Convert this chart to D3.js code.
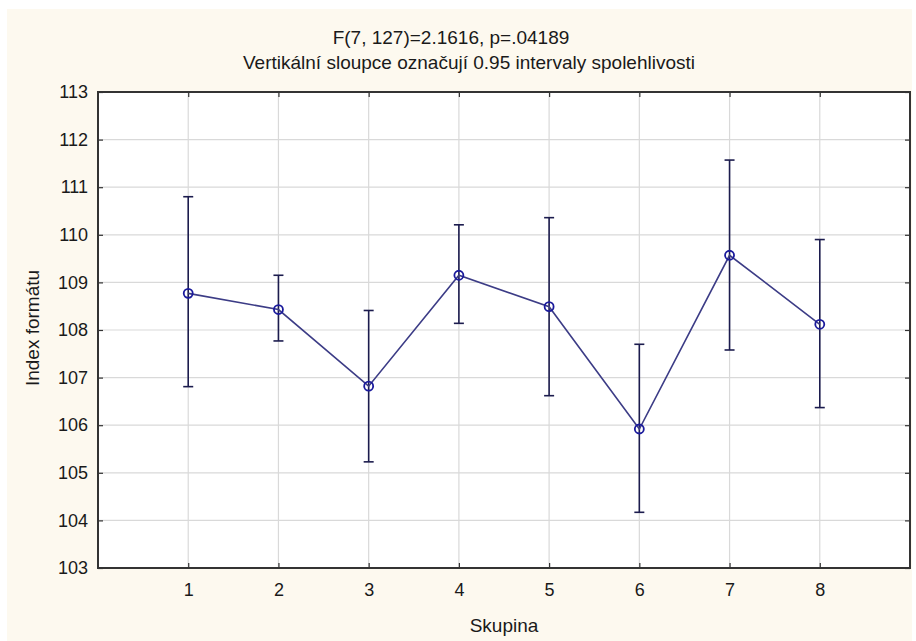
<!DOCTYPE html>
<html>
<head>
<meta charset="utf-8">
<script src="https://cdn.jsdelivr.net/npm/d3@7/dist/d3.min.js"></script>
<style>
  html, body { margin: 0; padding: 0; background: #ffffff; }
  svg { display: block; }
  text { font-family: "Liberation Sans", Arial, sans-serif; fill: #1a1a1a; }
</style>
</head>
<body>
<svg id="chart" width="916" height="641"></svg>
<script>
// Group means with 95 % confidence intervals
const groups = [1, 2, 3, 4, 5, 6, 7, 8];
const means = [108.77, 108.43, 106.82, 109.15, 108.49, 105.92, 109.57, 108.12];
const lower = [106.81, 107.77, 105.23, 108.14, 106.62, 104.17, 107.58, 106.37];
const upper = [110.80, 109.15, 108.41, 110.21, 110.36, 107.70, 111.57, 109.90];
const yTicks = [103, 104, 105, 106, 107, 108, 109, 110, 111, 112, 113];

const titleLines = ["F(7, 127)=2.1616, p=.04189",
                    "Vertikální sloupce označují 0.95 intervaly spolehlivosti"];
const xLabel = "Skupina";
const yLabel = "Index formátu";

const svg = d3.select("#chart");
const W = 916, H = 641;
const plot = { left: 98, top: 92, right: 910, bottom: 568 };

// panel background
svg.append("rect")
  .attr("x", 7).attr("y", 9).attr("width", 905).attr("height", H - 9)
  .attr("fill", "#fdf9ef");

const x = d3.scaleLinear().domain([0, 9]).range([plot.left, plot.right]);
const y = d3.scaleLinear().domain([103, 113]).range([plot.bottom, plot.top]);

// plotting area
svg.append("rect")
  .attr("x", plot.left).attr("y", plot.top)
  .attr("width", plot.right - plot.left).attr("height", plot.bottom - plot.top)
  .attr("fill", "#ffffff");

// grid
const grid = svg.append("g").attr("stroke", "#d9d9d9").attr("stroke-width", 1.2);
grid.selectAll("line.h").data(yTicks.slice(1, -1)).join("line")
  .attr("x1", plot.left).attr("x2", plot.right)
  .attr("y1", d => y(d)).attr("y2", d => y(d));
grid.selectAll("line.v").data(groups).join("line")
  .attr("y1", plot.top).attr("y2", plot.bottom)
  .attr("x1", d => x(d)).attr("x2", d => x(d));

// axes
const axisLeft = d3.axisLeft(y).tickValues(yTicks).tickSize(-5).tickPadding(10).tickFormat(d3.format("d"));
const axisRight = d3.axisRight(y).tickValues(yTicks).tickSize(-5).tickFormat("");
const axisBottom = d3.axisBottom(x).tickValues(groups).tickSize(-5).tickPadding(15).tickFormat(d3.format("d"));
const axisTop = d3.axisTop(x).tickValues(groups).tickSize(-5).tickFormat("");

function styleAxis(g) {
  g.select(".domain").remove();
  g.selectAll(".tick line").attr("stroke", "#333").attr("stroke-width", 1.2);
  g.selectAll(".tick text").attr("font-size", 18).attr("fill", "#1a1a1a")
    .attr("font-family", "'Liberation Sans', Arial, sans-serif");
}
svg.append("g").attr("transform", `translate(${plot.left},0)`).call(axisLeft).call(styleAxis);
svg.append("g").attr("transform", `translate(${plot.right},0)`).call(axisRight).call(styleAxis);
svg.append("g").attr("transform", `translate(0,${plot.bottom})`).call(axisBottom).call(styleAxis);
svg.append("g").attr("transform", `translate(0,${plot.top})`).call(axisTop).call(styleAxis);

// frame
svg.append("rect")
  .attr("x", plot.left).attr("y", plot.top)
  .attr("width", plot.right - plot.left).attr("height", plot.bottom - plot.top)
  .attr("fill", "none").attr("stroke", "#333").attr("stroke-width", 2);

// error bars
const bars = svg.append("g").attr("stroke", "#1c1c4e").attr("stroke-width", 1.6);
groups.forEach((g, i) => {
  const cx = x(g);
  bars.append("line").attr("x1", cx).attr("x2", cx).attr("y1", y(lower[i])).attr("y2", y(upper[i]));
  bars.append("line").attr("x1", cx - 5).attr("x2", cx + 5).attr("y1", y(lower[i])).attr("y2", y(lower[i]));
  bars.append("line").attr("x1", cx - 5).attr("x2", cx + 5).attr("y1", y(upper[i])).attr("y2", y(upper[i]));
});

// mean line
const pts = groups.map((g, i) => [x(g), y(means[i])]);
svg.append("path")
  .attr("d", d3.line()(pts))
  .attr("fill", "none").attr("stroke", "#3c3c86").attr("stroke-width", 1.6);

// markers
svg.append("g").selectAll("circle").data(pts).join("circle")
  .attr("cx", d => d[0]).attr("cy", d => d[1]).attr("r", 4.5)
  .attr("fill", "none").attr("stroke", "#1a1a9c").attr("stroke-width", 1.8);

// titles
const titleX = [451, 469];
svg.append("g").selectAll("text").data(titleLines).join("text")
  .attr("x", (d, i) => titleX[i])
  .attr("y", (d, i) => 44 + i * 25)
  .attr("text-anchor", "middle").attr("font-size", 19)
  .text(d => d);

svg.append("text")
  .attr("x", (plot.left + plot.right) / 2).attr("y", 632)
  .attr("text-anchor", "middle").attr("font-size", 19)
  .text(xLabel);

svg.append("text")
  .attr("transform", `translate(39,${(plot.top + plot.bottom) / 2 - 2}) rotate(-90)`)
  .attr("text-anchor", "middle").attr("font-size", 19)
  .text(yLabel);
</script>
</body>
</html>
